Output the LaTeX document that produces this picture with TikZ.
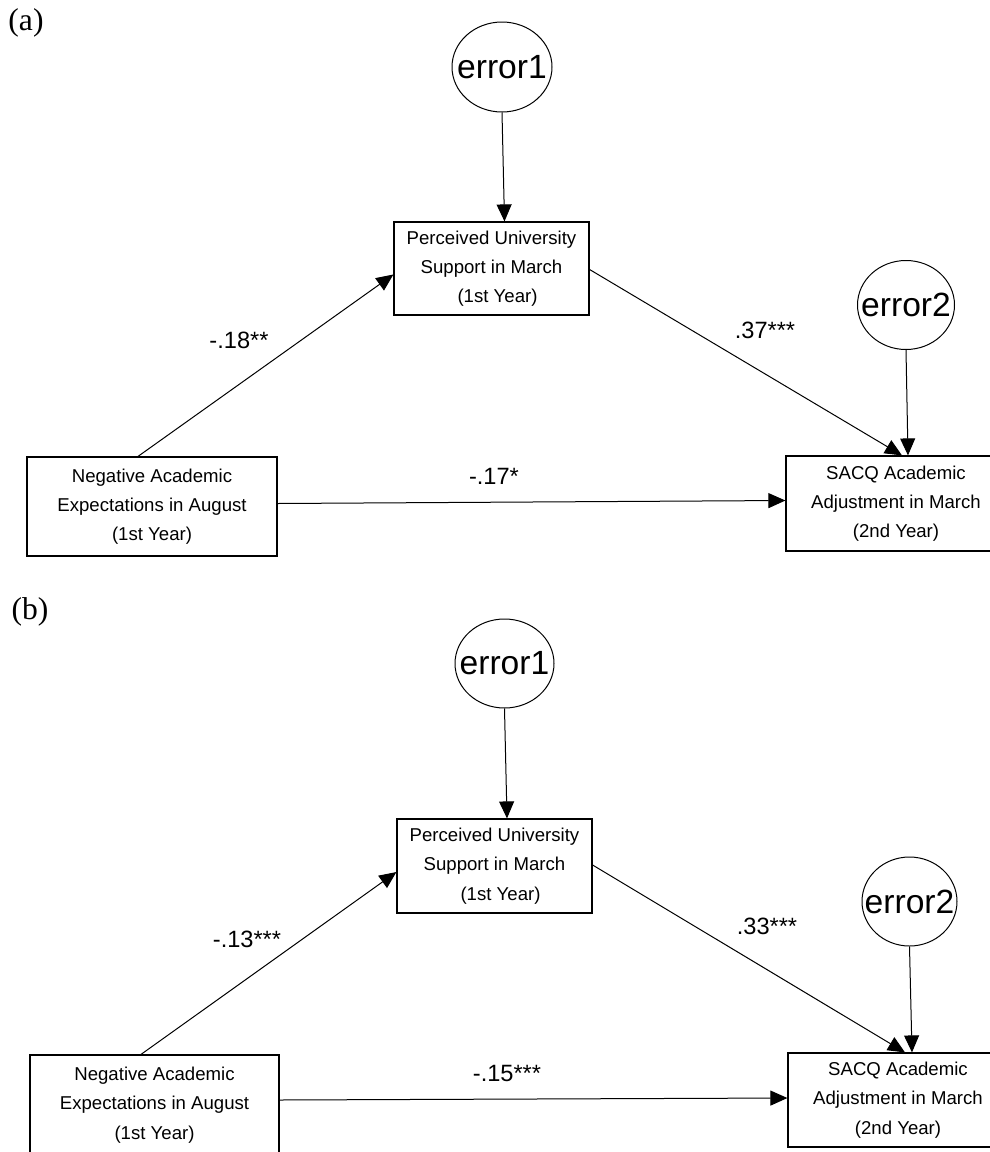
\documentclass[tikz,border=0pt]{standalone}
\usepackage{fontspec}
\setmainfont{Liberation Sans}
\newfontfamily\panelfont{Liberation Serif}
\usetikzlibrary{arrows.meta,shapes.geometric,calc}
\begin{document}
\begin{tikzpicture}[x=0.5pt,y=-0.5pt,
  box/.style={draw,line width=0.6pt,align=center,inner sep=0pt,font=\fontsize{9.3}{14.6}\selectfont},
  err/.style={draw,ellipse,line width=0.5pt,inner xsep=-10pt,inner ysep=0pt,font=\fontsize{16.8}{18}\selectfont},
  conn/.style={line width=0.5pt,-{Triangle[length=8.5pt,width=7.5pt]}},
  coef/.style={font=\fontsize{11.8}{13}\selectfont,inner sep=0pt},
  panel/.style={font=\panelfont\fontsize{15.8}{17}\selectfont,inner sep=0pt}]
\useasboundingbox (0,0) rectangle (990,1152);
\clip (0,0) rectangle (990,1152);

% ---------- panel (a) ----------
\node[panel] (laba) at (26,23) {(a)};
\node[err,minimum width=50pt,minimum height=45pt] (e1a) at (502,67) {error1};
\node[err,minimum width=48.5pt,minimum height=44.5pt] (e2a) at (906,305) {error2};
\node[box,minimum width=97.5pt,minimum height=46.5pt] (pa) at (491.5,268.5)
  {Perceived University\\Support in March\\\hspace*{6pt}(1st Year)};
\node[box,minimum width=125pt,minimum height=49.5pt] (na) at (152,506.5)
  {Negative Academic\\Expectations in August\\(1st Year)};
\node[box,minimum width=110pt,minimum height=47.5pt] (sa) at (896,503.5)
  {SACQ Academic\\Adjustment in March\\(2nd Year)};

\draw[conn] (e1a.south) -- ($(pa.north)+(13,0)$);
\draw[conn] ($(na.north)+(-14,0)$) -- ($(pa.west)+(0,6)$);
\draw[conn] ($(pa.east)+(0,1)$) -- ($(sa.north)+(6,0)$);
\draw[conn] (e2a.south) -- ($(sa.north)+(12,0)$);
\draw[conn] ($(na.east)+(0,-3)$) -- ($(sa.west)+(0,-3)$);

\node[coef] (ca1) at (239,340) {-.18**};
\node[coef] (ca2) at (765,330) {.37***};
\node[coef] (ca3) at (494,476) {-.17*};

% ---------- panel (b) ----------
\node[panel] (labb) at (30,612) {(b)};
\node[err,minimum width=49.5pt,minimum height=44.5pt] (e1b) at (504.5,663.5) {error1};
\node[err,minimum width=47.5pt,minimum height=44.5pt] (e2b) at (909.5,901.5) {error2};
\node[box,minimum width=97.5pt,minimum height=47pt] (pb) at (494.5,866)
  {Perceived University\\Support in March\\\hspace*{6pt}(1st Year)};
\node[box,minimum width=124.5pt,minimum height=50pt] (nb) at (154.5,1105)
  {Negative Academic\\Expectations in August\\(1st Year)};
\node[box,minimum width=110pt,minimum height=47pt] (sb) at (898,1100)
  {SACQ Academic\\Adjustment in March\\(2nd Year)};

\draw[conn] (e1b.south) -- ($(pb.north)+(12.5,0)$);
\draw[conn] ($(nb.north)+(-13.5,0)$) -- ($(pb.west)+(0,6)$);
\draw[conn] ($(pb.east)+(0,-1)$) -- ($(sb.north)+(7,0)$);
\draw[conn] (e2b.south) -- ($(sb.north)+(14,0)$);
\draw[conn] ($(nb.east)+(0,-5)$) -- ($(sb.west)+(0,-2)$);

\node[coef] (cb1) at (247,939) {-.13***};
\node[coef] (cb2) at (767,926) {.33***};
\node[coef] (cb3) at (507,1073) {-.15***};
\end{tikzpicture}
\end{document}
